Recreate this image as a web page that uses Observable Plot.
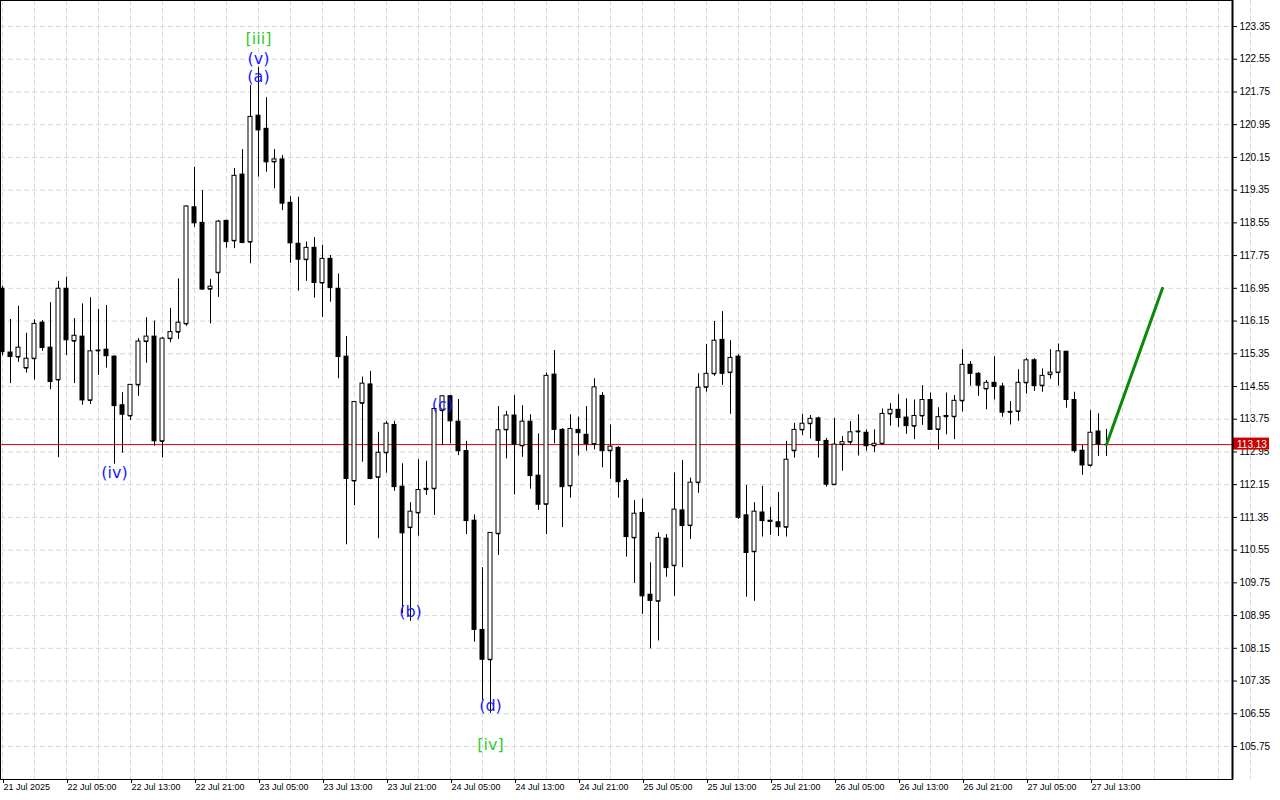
<!DOCTYPE html>
<html>
<head>
<meta charset="utf-8">
<script src="https://cdn.jsdelivr.net/npm/d3@7"></script>
<script src="https://cdn.jsdelivr.net/npm/@observablehq/plot@0.6"></script>
<style>
  html, body { margin: 0; padding: 0; background: #ffffff; }
  #chart svg { display: block; }
</style>
</head>
<body>
<div id="chart"></div>
<script>
// ---- Data (hourly candles, first bar = 21 Jul 2025 21:00) ----
const startTime = "2025-07-21T21:00:00Z";
const open = [
  116.94,115.38,115.27,115.00,115.23,116.11,115.50,114.71,116.94,115.66,
  115.77,114.21,115.42,115.45,115.28,114.09,113.83,114.59,115.65,115.77,
  113.21,115.72,115.88,116.08,118.93,118.55,116.93,117.33,118.60,118.11,
  119.73,118.08,121.17,120.85,120.04,120.10,119.04,118.04,117.65,117.94,
  117.08,117.67,116.94,115.28,112.24,114.14,114.60,112.33,112.93,113.61,
  112.10,111.10,111.46,112.03,112.05,113.96,114.31,113.69,112.97,111.27,
  108.60,107.87,110.95,113.49,113.84,113.10,113.69,112.37,111.67,114.84,
  113.49,112.12,113.49,113.37,113.14,114.32,112.98,113.05,112.24,110.85,
  111.46,109.46,109.30,110.83,110.17,111.52,111.15,112.20,114.53,114.86,
  115.69,114.89,115.28,111.40,110.51,111.47,111.27,111.23,111.11,112.98,
  113.49,113.64,113.77,113.22,112.15,113.13,113.19,113.44,113.42,113.10,
  113.15,113.88,113.98,113.79,113.58,113.83,114.22,113.50,113.81,113.81,
  114.20,115.08,114.86,114.49,114.64,114.55,113.92,113.94,114.64,115.19,
  114.57,114.84,114.89,115.40,114.22,112.98,112.62,113.45,113.13
];
const high = [
  117.00,116.19,116.51,115.85,116.18,116.16,116.60,117.12,117.22,116.21,
  116.57,116.72,116.43,116.53,115.30,114.40,114.60,115.72,116.23,116.15,
  115.75,116.46,117.18,118.97,119.91,119.34,117.17,118.61,118.61,119.88,
  120.34,121.91,122.35,121.61,120.34,120.20,119.19,119.18,118.08,118.19,
  118.00,117.75,117.30,115.77,114.17,114.78,114.92,113.43,113.69,113.70,
  112.66,111.71,112.76,112.72,114.02,114.33,114.33,114.23,113.21,111.41,
  110.12,110.97,114.06,113.94,114.33,114.08,113.86,113.39,114.88,115.43,
  113.52,113.86,113.80,114.06,114.74,114.40,113.61,113.08,112.29,111.76,
  111.80,110.24,110.97,110.93,112.44,112.74,112.31,114.86,115.58,116.14,
  116.38,115.67,115.33,112.13,111.71,112.11,111.59,111.96,113.21,113.65,
  113.87,113.84,113.80,113.28,113.77,113.33,113.69,113.86,113.49,113.49,
  114.00,114.13,114.35,114.25,114.22,114.57,114.39,114.03,114.39,114.33,
  115.45,115.16,114.89,114.70,115.28,114.63,114.18,114.96,115.24,115.23,
  114.98,115.45,115.59,115.41,114.41,113.11,113.96,113.88,113.50
];
const low = [
  115.30,114.62,115.14,114.88,114.71,115.41,114.47,112.81,115.31,114.62,
  114.09,114.11,114.82,115.00,112.65,112.92,113.72,114.31,115.12,113.09,
  112.81,115.62,115.70,116.02,118.44,116.90,116.08,116.73,117.93,117.92,
  118.04,117.55,119.67,119.79,119.38,118.85,117.56,116.88,117.12,116.71,
  116.24,116.61,114.74,110.68,111.64,112.70,112.27,110.83,112.43,111.99,
  109.00,108.81,110.89,111.89,111.40,113.11,113.15,112.86,110.93,108.30,
  106.88,106.56,110.42,112.78,111.90,112.82,112.04,111.52,110.93,113.15,
  111.10,111.82,112.85,112.97,113.00,112.56,112.28,111.82,110.38,109.74,
  108.98,108.14,108.33,109.89,109.42,110.12,110.81,111.94,114.41,114.80,
  114.58,113.87,111.30,109.40,109.30,110.87,110.91,110.88,110.87,112.80,
  113.35,113.27,112.80,112.09,112.15,112.48,113.11,112.85,112.97,112.94,
  113.13,113.58,113.55,113.38,113.25,113.60,113.49,113.00,113.37,113.25,
  113.93,114.56,114.31,113.98,114.22,113.80,113.61,113.70,114.37,114.43,
  114.41,114.73,114.56,114.02,112.92,112.38,112.58,112.84,112.84
];
const close = [
  115.39,115.27,115.50,115.23,116.08,115.49,114.66,116.94,115.68,115.79,
  114.21,115.41,115.43,115.29,114.07,113.86,114.59,115.65,115.77,113.21,
  115.72,115.88,116.11,118.95,118.54,116.92,116.99,118.58,118.08,119.70,
  118.06,121.14,120.81,120.03,120.10,119.02,118.05,117.65,117.94,117.08,
  117.67,116.96,115.27,112.29,114.17,114.62,112.29,112.93,113.64,112.09,
  110.96,111.49,112.02,112.05,114.00,114.31,113.70,112.97,111.26,108.60,
  107.87,110.97,113.48,113.84,113.13,113.69,112.36,111.66,114.81,113.49,
  112.09,113.51,113.41,113.14,114.53,112.97,113.08,112.21,110.87,111.44,
  109.42,109.31,110.85,110.11,111.54,111.14,112.20,114.52,114.86,115.67,
  114.86,115.25,111.34,110.48,111.49,111.26,111.24,111.11,112.76,113.49,
  113.64,113.76,113.22,112.15,113.13,113.19,113.43,113.45,113.09,113.15,
  113.88,113.98,113.78,113.58,113.83,114.22,113.49,113.80,113.83,114.20,
  115.08,114.86,114.57,114.64,114.54,113.91,113.93,114.64,115.19,114.56,
  114.81,114.89,115.41,114.22,112.97,112.62,113.42,113.13,113.13
];
const lastPrice = 113.13;

// forecast arrow (bar index, price)
const forecastBars = [138, 145];
const forecastPrices = [113.13, 116.95];

// wave labels
const waveTexts  = ["[iii]", "(v)", "(a)", "(iv)", "(b)", "(c)", "(d)", "[iv]"];
const waveBars   = [32, 32, 32, 14, 51, 55, 61, 61];
const wavePrices = [123.06, 122.57, 122.13, 112.45, 109.05, 114.11, 106.75, 105.80];
const waveColors = ["#32cd32", "#1a1aff", "#1a1aff", "#1a1aff", "#1a1aff", "#1a1aff", "#1a1aff", "#32cd32"];

// axis ticks
const yTicks = [105.75,106.55,107.35,108.15,108.95,109.75,110.55,111.35,112.15,112.95,
  113.75,114.55,115.35,116.15,116.95,117.75,118.55,119.35,120.15,120.95,121.75,122.55,123.35];
const xTickLabels = ["21 Jul 2025","22 Jul 05:00","22 Jul 13:00","22 Jul 21:00","23 Jul 05:00",
  "23 Jul 13:00","23 Jul 21:00","24 Jul 05:00","24 Jul 13:00","24 Jul 21:00","25 Jul 05:00",
  "25 Jul 13:00","25 Jul 21:00","26 Jul 05:00","26 Jul 13:00","26 Jul 21:00","27 Jul 05:00","27 Jul 13:00"];
const xTickBars = [0,8,16,24,32,40,48,56,64,72,80,88,96,104,112,120,128,136];

// ---- build ----
const HOUR = 3600e3;
const t0 = new Date(startTime).getTime();
const barTime = i => new Date(t0 + i * HOUR);
const candles = open.map((o, i) => ({
  date: barTime(i), open: o, high: high[i], low: low[i], close: close[i], bull: close[i] >= o
}));
const bulls = candles.filter(d => d.bull);
const bears = candles.filter(d => !d.bull);
const forecast = forecastBars.map((b, i) => ({date: barTime(b), price: forecastPrices[i]}));
const waves = waveTexts.map((t, i) => ({date: barTime(waveBars[i]), price: wavePrices[i], text: t, color: waveColors[i]}));
const xTicks = xTickBars.map(barTime);
const labelOf = new Map(xTickBars.map((b, i) => [+barTime(b), xTickLabels[i]]));
const xGrid = d3.range(0, 160, 4).map(barTime);

const half = 0.25 * HOUR;
const bodyOpts = {
  x1: d => new Date(+d.date - half),
  x2: d => new Date(+d.date + half),
  y1: "open", y2: "close", stroke: "black", strokeWidth: 1
};

const chart = Plot.plot({
  width: 1280,
  height: 800,
  marginLeft: 0,
  marginRight: 48,
  marginTop: 0,
  marginBottom: 21,
  style: {fontFamily: "Liberation Sans, Arial, sans-serif", fontSize: "9px", background: "white"},
  x: {type: "utc", domain: [new Date(t0 - 0.25 * HOUR), new Date(t0 + 153.75 * HOUR)], axis: null},
  y: {domain: [104.943, 123.986], axis: null},
  color: {type: "identity"},
  marks: [
    Plot.gridY(yTicks, {stroke: "#d8d8d8", strokeOpacity: 1, strokeDasharray: "5,3"}),
    Plot.gridX(xGrid, {stroke: "#d8d8d8", strokeOpacity: 1, strokeDasharray: "5,3"}),
    Plot.ruleY([lastPrice], {stroke: "#e00000", strokeWidth: 1}),
    Plot.ruleX(candles, {x: "date", y1: "low", y2: "high", stroke: "black", strokeWidth: 1}),
    Plot.rect(bulls, {...bodyOpts, fill: "white"}),
    Plot.rect(bears, {...bodyOpts, fill: "black"}),
    Plot.ruleY(candles, {x1: bodyOpts.x1, x2: bodyOpts.x2, y: "open", stroke: "black"}),
    Plot.line(forecast, {x: "date", y: "price", stroke: "#0a8a0a", strokeWidth: 3}),
    Plot.text(waves, {x: "date", y: "price", text: "text", fill: "color", fontSize: 16,
      fontFamily: "DejaVu Sans, sans-serif"}),
    Plot.frame({stroke: "black"}),
    Plot.axisY(yTicks, {anchor: "right", tickSize: 4, tickPadding: 3, tickFormat: d => d.toFixed(2),
      fontSize: 10, fill: "black"}),
    Plot.axisX(xTicks, {anchor: "bottom", tickSize: 4, tickPadding: 0, textAnchor: "start", dx: 1,
      tickFormat: d => labelOf.get(+d), fontSize: 9, fill: "black"})
  ]
});

// current price tag on the price axis, positioned through the plot's y scale
const svg = d3.select(chart);
const yPos = chart.scale("y").apply(lastPrice);
const xRight = chart.scale("x").range[1];
const g = svg.append("g");
g.append("rect").attr("x", xRight + 1).attr("y", yPos - 6.5).attr("width", 36).attr("height", 12).attr("fill", "#cc0000");
g.append("text").attr("x", xRight + 5).attr("y", yPos + 4).attr("fill", "white")
  .attr("text-anchor", "start")
  .attr("font-size", 10).attr("font-family", "Liberation Sans, Arial, sans-serif").text(lastPrice.toFixed(2));
// thicker price axis line
svg.append("line").attr("x1", xRight + 0.5).attr("x2", xRight + 0.5).attr("y1", 0).attr("y2", chart.scale("y").range[0] + 0.5)
  .attr("stroke", "black").attr("stroke-width", 2);

document.getElementById("chart").appendChild(chart);
</script>
</body>
</html>
